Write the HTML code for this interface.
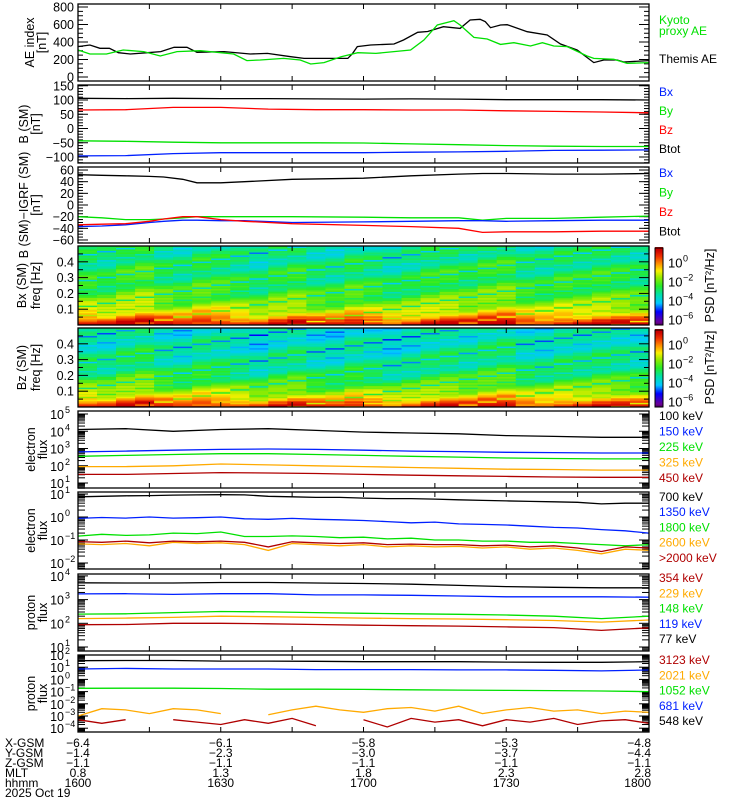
<!DOCTYPE html>
<html><head><meta charset="utf-8"><style>
html,body{margin:0;padding:0;background:#fff;}
svg{display:block;font-family:"Liberation Sans",sans-serif;}
</style></head><body>
<svg id="c" width="750" height="800" viewBox="0 0 750 800"></svg>
<script>
// ---------- data ----------
const themisT=[0,2.5,4.6,6.6,8.5,11,14.6,17.4,20.2,22.9,25,30.7,36.2,39.8,44.7,47.5,51.7,56.7,57.7,58.7,61.5,66.4,68.4,71.4,73.5,76.8,80.3,82.4,84.5,85.6,86.7,88.8,90.2,94.4,98.6,101.4,104.9,108.4,110.5,113.3,114.7,120];
const themisV=[347,366,328,328,278,263,278,290,339,339,282,290,263,270,232,213,213,213,270,347,366,377,423,511,520,575,556,651,659,632,564,594,598,518,480,377,309,164,194,194,171,187];
const kyotoT=[0,2.5,6,9.5,13.8,17.3,20.8,25.7,32.7,35.5,38.3,43.2,46.7,48.9,51.7,55.3,58.8,62.6,69.9,72.7,75.5,79,80.3,83.2,86,88.8,91.6,95.1,97.6,100,102.8,107,108.4,112.6,115.4,120];
const kyotoV=[309,263,263,309,290,240,290,301,263,187,194,213,194,149,164,232,278,270,309,423,594,644,594,453,434,373,392,354,392,354,347,240,213,202,156,164];
const T13=[0,10,20,30,40,50,60,70,80,90,100,110,120];
const T25=[0,5,10,15,20,25,30,35,40,45,50,55,60,65,70,75,80,85,90,95,100,105,110,115,120];
const bTot=[106,105,106,105,105,104,103,104,103,101,101,101,100];
const bZ=[65,66,74,74,68,66,66,65,65,62,60,58,55];
const bY=[-43,-45,-48,-50,-50,-50,-51,-54,-57,-60,-62,-63,-63];
const bX=[-96,-95,-88,-85,-85,-85,-85,-83,-82,-80,-77,-76,-75];
const dT=[0,5,10,15,18,22,25,30,35,45,60,70,80,85,90,100,110,120];
const dTot=[52,51,50,49,48,44,38,38,40,44,46,50,53,54,54,53,53,54];
const dY=[-20,-22,-25,-25,-24,-22,-20,-20,-20,-20,-21,-22,-22,-26,-23,-23,-21,-19];
const dX=[-37,-36,-34,-30,-28,-26,-26,-27,-27,-30,-29,-28,-27,-27,-28,-27,-26,-26];
const dZ=[-34,-33,-32,-28,-24,-20,-20,-25,-28,-32,-35,-37,-40,-47,-46,-46,-45,-45];
const e1Black=[4.1,4.15,4.0,4.1,4.15,4.05,3.95,3.9,3.85,3.75,3.7,3.65,3.65];
const e1Blue=[2.8,2.85,2.9,2.95,2.97,2.95,2.9,2.85,2.82,2.78,2.76,2.74,2.74];
const e1Green=[2.55,2.6,2.65,2.7,2.7,2.65,2.6,2.55,2.5,2.45,2.42,2.4,2.4];
const e1Orange=[1.95,1.95,2.0,2.1,2.05,2.0,1.95,1.9,1.85,1.8,1.78,1.75,1.75];
const e1Red=[1.5,1.5,1.55,1.6,1.58,1.55,1.5,1.45,1.42,1.38,1.35,1.33,1.33];
const e2Black=[0.88,0.9,0.92,0.93,0.95,0.96,0.97,0.96,0.9,0.88,0.85,0.85,0.82,0.8,0.8,0.78,0.75,0.72,0.7,0.68,0.66,0.64,0.57,0.6,0.6];
const e2Blue=[-0.06,-0.02,-0.05,0.0,-0.05,-0.03,0.0,-0.08,-0.1,-0.06,-0.1,-0.12,-0.15,-0.2,-0.25,-0.22,-0.3,-0.32,-0.35,-0.4,-0.45,-0.48,-0.55,-0.6,-0.7];
const e2Green=[-0.83,-0.75,-0.8,-0.78,-0.7,-0.72,-0.65,-0.85,-0.85,-0.82,-0.85,-0.9,-0.88,-0.95,-0.92,-1.0,-1.0,-1.05,-1.05,-1.1,-1.1,-1.15,-1.2,-1.25,-1.2];
const e2Orange=[-1.17,-1.2,-1.15,-1.25,-1.1,-1.15,-1.12,-1.2,-1.45,-1.15,-1.2,-1.25,-1.2,-1.3,-1.25,-1.3,-1.28,-1.35,-1.3,-1.4,-1.35,-1.45,-1.6,-1.4,-1.45];
const e2Red=[-1.07,-1.1,-1.05,-1.12,-1.05,-1.08,-1.05,-1.1,-1.3,-1.08,-1.12,-1.15,-1.12,-1.2,-1.18,-1.2,-1.2,-1.25,-1.22,-1.3,-1.25,-1.35,-1.5,-1.3,-1.35];
const p1Black=[3.71,3.7,3.7,3.72,3.72,3.7,3.68,3.65,3.6,3.55,3.52,3.5,3.5];
const p1Blue=[3.24,3.25,3.22,3.25,3.25,3.2,3.2,3.18,3.15,3.12,3.12,3.12,3.1];
const p1Green=[2.39,2.4,2.45,2.5,2.48,2.45,2.42,2.4,2.38,2.35,2.3,2.2,2.3];
const p1Orange=[2.2,2.22,2.25,2.3,2.28,2.25,2.22,2.2,2.18,2.15,2.12,2.05,2.14];
const p1Red=[1.94,1.95,2.0,2.0,1.98,1.95,1.92,1.9,1.88,1.85,1.82,1.7,1.81];
const p2Black=[1.53,1.55,1.55,1.5,1.5,1.48,1.45,1.45,1.45,1.42,1.4,1.4,1.45];
const p2Blue=[0.85,0.9,0.85,0.85,0.85,0.8,0.8,0.8,0.78,0.78,0.75,0.7,0.77];
const p2Green=[-0.73,-0.72,-0.72,-0.75,-0.8,-0.8,-0.82,-0.85,-0.88,-0.9,-0.92,-0.95,-1.0];
const p2Orange=[-3.0,-2.4,-2.5,-2.8,-2.4,-2.5,-2.8,null,-2.9,-2.5,-2.2,-2.5,-2.7,-2.4,-2.3,-2.6,-2.2,-2.8,-2.5,-2.3,-2.6,-2.5,-2.8,-2.6,-2.7];
const p2Red=[-3.3,-3.6,-3.3,null,-3.3,-3.5,-3.7,-3.3,-3.6,-3.2,-3.8,null,-3.3,-3.9,-3.2,-3.5,-3.3,-3.8,-3.3,-3.5,-3.2,-3.7,-3.4,-3.3,-3.6];
// spectrogram data (log10 PSD): row profile bottom->top, column offsets, row stripes
const bxRows=[0.8,0.3,-0.3,-0.8,-1.2,-1.5,-1.8,-2.0,-2.2,-2.4,-2.5,-2.6,-2.7,-2.8,-2.9,-2.9,-3.0,-3.0,-3.1,-3.1,-3.2,-3.2,-3.3,-3.3,-3.3,-3.4];
const bxCols=[0.3,0.1,0.5,0.7,0.2,0.0,0.4,0.3,0.1,-0.2,0.2,0.4,0.0,-0.1,0.3,0.1,-0.2,0.0,0.3,0.4,0.2,0.5,0.6,0.1,0.0,0.3,0.2,0.4,0.3,0.1];
const bzRows=[0.6,0.1,-0.5,-1.0,-1.4,-1.7,-2.0,-2.3,-2.5,-2.7,-2.8,-3.0,-3.1,-3.2,-3.3,-3.3,-3.4,-3.4,-3.5,-3.5,-3.6,-3.6,-3.6,-3.7,-3.7,-3.7];
const bzCols=[0.2,0.0,0.4,0.6,0.1,-0.1,0.3,0.2,0.0,-0.3,0.1,0.3,-0.1,-0.2,0.2,0.0,-0.3,-0.1,0.2,0.3,0.1,0.4,0.5,0.0,-0.1,0.2,0.1,0.3,0.2,0.0];
const stripes=[0.2,-0.3,0.1,0.5,-0.7,0.0,0.4,-0.2,-0.9,0.3,0.1,-0.5,0.3,0.6,-0.4,0.0,-1.2];
// ---------- helpers ----------
const NS="http://www.w3.org/2000/svg",S=document.getElementById('c');
function el(tag,at,parent){const e=document.createElementNS(NS,tag);for(const k in at)e.setAttribute(k,at[k]);(parent||S).appendChild(e);return e;}
const X0=78,X1=649;
const xs=t=>X0+t*(X1-X0)/120;
function panel(name,y0,y1){
 const g=el('g',{});
 
 
 return {g,y0,y1};
}
function frame(p){
 const r=el('rect',{x:X0,y:p.y0,width:X1-X0,height:p.y1-p.y0,fill:'none',stroke:'#000','stroke-width':1.3},p.g);
 
 
 for(let t=15;t<120;t+=15){const x=xs(t);
  el('line',{x1:x,x2:x,y1:p.y1,y2:p.y1-5,stroke:'#000'},p.g);
  el('line',{x1:x,x2:x,y1:p.y0,y2:p.y0+5,stroke:'#000'},p.g);}
}
function ytick(p,y,len){
 el('line',{x1:X0,x2:X0+len,y1:y,y2:y,stroke:'#000'},p.g);
 el('line',{x1:X1,x2:X1-len,y1:y,y2:y,stroke:'#000'},p.g);
}
function linAxis(p,ys,labels,minorStep,lo,hi){
 for(let v=lo;v<=hi+1e-9;v+=minorStep){const y=ys(v);if(y>=p.y0&&y<=p.y1)ytick(p,y,5);}
 labels.forEach(v=>{const y=ys(v);ytick(p,y,10);
  const t=el('text',{x:74,y:y+4.5,'font-size':12.5,'text-anchor':'end'},p.g);t.textContent=String(v).replace('-','\u2212');
  
  });
}
function logAxis(p,ys,decs,lo,hi){
 for(let d=lo;d<hi;d++)for(let k=1;k<10;k++){const y=ys(d+Math.log10(k));if(y>=p.y0-0.5&&y<=p.y1+0.5)ytick(p,y,k==1?10:7);}
 decs.forEach(d=>{const y=ys(d);
  const t=el('text',{x:64,y:y+5,'font-size':12.5,'text-anchor':'end'},p.g);t.textContent='10';
  
  
  const s=el('text',{x:65,y:y-1,'font-size':9},p.g);s.textContent=String(d).replace('-','\u2212');
  
  });
}
function series(p,T,V,ys,color,name){
 const path=[];let pen=false;
 T.forEach((t,i)=>{const v=V[i];if(v===null){pen=false;return;}
  path.push((pen?'L':'M')+xs(t).toFixed(1)+' '+ys(v).toFixed(1));pen=true;});
 const e=el('path',{d:path.join(' '),fill:'none',stroke:color,'stroke-width':1.3},p.g);
 
 
}
function ytitle(p,lines,xs0){
 const cy=(p.y0+p.y1)/2;
 lines.forEach((l,i)=>{const x=xs0[i];
  const t=el('text',{x:x,y:cy,'font-size':12.5,'text-anchor':'middle',transform:`rotate(-90 ${x} ${cy})`},p.g);t.textContent=l;
  
  });
}
function legend(p,items,ys0,dy){
 items.forEach((it,i)=>{const t=el('text',{x:659,y:ys0+i*dy,'font-size':12,fill:it[1]},p.g);t.textContent=it[0];
  
  });
}
const GREEN='#00e000',BLUE='#0020ff',RED='#ff0000',ORANGE='#ffaa00',DRED='#b00000';
// ---------- AE panel ----------
{const p=panel('ae-index-panel',4,81);const ys=v=>77-v*0.0875;
 linAxis(p,ys,[0,200,400,600,800],50,0,800);
 series(p,themisT,themisV,ys,'#000','themis-ae-line');series(p,kyotoT,kyotoV,ys,GREEN,'kyoto-ae-line');
 frame(p);ytitle(p,['AE index','[nT]'],[34,46]);
 legend(p,[['Kyoto',GREEN],['proxy AE',GREEN]],24,11);legend(p,[['Themis AE','#000']],63,0);}
// ---------- B panel ----------
{const p=panel('b-sm-panel',85,163);const ys=v=>128.5-v*0.285;
 linAxis(p,ys,[150,100,50,0,-50,-100],10,-120,150);
 series(p,T13,bTot,ys,'#000','btot-line');series(p,T13,bZ,ys,RED,'bz-line');series(p,T13,bY,ys,GREEN,'by-line');series(p,T13,bX,ys,BLUE,'bx-line');
 frame(p);ytitle(p,['B (SM)','[nT]'],[28,40]);
 legend(p,[['Bx',BLUE],['By',GREEN],['Bz',RED],['Btot','#000']],96,19);}
// ---------- B - IGRF panel ----------
{const p=panel('b-minus-igrf-panel',167,243);const ys=v=>205-v*0.583;
 linAxis(p,ys,[60,40,20,0,-20,-40,-60],5,-65,65);
 series(p,dT,dTot,ys,'#000','dbtot-line');series(p,dT,dY,ys,GREEN,'dby-line');series(p,dT,dX,ys,BLUE,'dbx-line');series(p,dT,dZ,ys,RED,'dbz-line');
 frame(p);ytitle(p,['B (SM)\u2212IGRF (SM)','[nT]'],[28,40]);
 legend(p,[['Bx',BLUE],['By',GREEN],['Bz',RED],['Btot','#000']],177,19.5);}
// ---------- spectrograms ----------
function cmap(v){const st=[[-7,[0,0,0]],[-6.3,[110,0,150]],[-5.2,[0,0,255]],[-4.3,[0,200,255]],[-3.4,[0,225,170]],[-2.5,[40,235,40]],[-1.6,[150,235,0]],[-0.9,[250,240,0]],[-0.2,[255,150,0]],[0.6,[240,50,0]],[1.3,[200,0,0]]];
 if(v<=st[0][0])return 'rgb(0,0,0)';
 for(let i=1;i<st.length;i++)if(v<=st[i][0]){const a=st[i-1],b=st[i],f=(v-a[0])/(b[0]-a[0]);
  return 'rgb('+a[1].map((c,j)=>Math.round(c+(b[1][j]-c)*f)).join(',')+')';}
 return 'rgb(200,0,0)';}
function spectro(name,y0,y1,rows,cols,title){
 const p=panel(name,y0,y1);const nR=rows.length*2,nC=cols.length,h=(y1-y0)/nR,w=(X1-X0)/nC;
 for(let c=0;c<nC;c++)for(let r=0;r<nR;r++){
  const v=rows[r>>1]+cols[c]+stripes[(r*7+c*3)%stripes.length];
  const e=el('rect',{x:(X0+c*w).toFixed(2),y:(y1-(r+1)*h).toFixed(2),width:(w+0.6).toFixed(2),height:(h+0.4).toFixed(2),fill:cmap(v)},p.g);
  
  }
 const ys=f=>y1-f*(y1-y0)/0.5;
 for(let f=0.05;f<0.5;f+=0.05)ytick(p,ys(f),(Math.round(f*100)%10==0)?10:5);
 [0.1,0.2,0.3,0.4].forEach(f=>{const t=el('text',{x:74,y:ys(f)+4.5,'font-size':12.5,'text-anchor':'end'},p.g);t.textContent=f.toFixed(1);
  
  });
 frame(p);ytitle(p,[title,'freq [Hz]'],[26,40]);
 // colorbar
 const cb=el('g',{},p.g);
 
 
 const top=1.5,bot=-6.6,cy=v=>y0+2+(top-v)*(y1-y0-2)/(top-bot);
 for(let v=bot;v<top;v+=0.1)el('rect',{x:655,y:cy(v+0.1),width:8,height:(y1-y0)/(top-bot)*0.1+0.5,fill:cmap(v)},cb);
 el('rect',{x:655,y:y0+2,width:8,height:y1-y0-2,fill:'none',stroke:'#000'},cb);
 [0,-2,-4,-6].forEach(d=>{const t=el('text',{x:668,y:cy(d)+5,'font-size':13},cb);t.textContent='10';
  const s=el('text',{x:683,y:cy(d)-1,'font-size':9},cb);s.textContent=String(d).replace('-','\u2212');});
 const cyM=(y0+y1)/2;
 const t=el('text',{x:714,y:cyM,'font-size':12.5,'text-anchor':'middle',transform:`rotate(-90 714 ${cyM})`},cb);t.textContent='PSD [nT\u00b2/Hz]';
 
 
}
spectro('bx-spectrogram-panel',246,325,bxRows,bxCols,'Bx (SM)');
spectro('bz-spectrogram-panel',328,407,bzRows,bzCols,'Bz (SM)');
// ---------- electron flux 1 ----------
{const p=panel('electron-flux-panel-1',411,488);const ys=v=>483-(v-1)*17.25;
 logAxis(p,ys,[1,2,3,4,5],0,6);
 series(p,T13,e1Black,ys,'#000','e-100kev');series(p,T13,e1Blue,ys,BLUE,'e-150kev');series(p,T13,e1Green,ys,GREEN,'e-225kev');series(p,T13,e1Orange,ys,ORANGE,'e-325kev');series(p,T13,e1Red,ys,DRED,'e-450kev');
 frame(p);ytitle(p,['electron','flux'],[35,47]);
 legend(p,[['100 keV','#000'],['150 keV',BLUE],['225 keV',GREEN],['325 keV',ORANGE],['450 keV',DRED]],420,15.5);}
// ---------- electron flux 2 ----------
{const p=panel('electron-flux-panel-2',492,569);const ys=v=>494-(v-1)*23;
 logAxis(p,ys,[1,0,-1,-2],-3,2);
 series(p,T25,e2Black,ys,'#000','e-700kev');series(p,T25,e2Blue,ys,BLUE,'e-1350kev');series(p,T25,e2Green,ys,GREEN,'e-1800kev');series(p,T25,e2Orange,ys,ORANGE,'e-2600kev');series(p,T25,e2Red,ys,DRED,'e-2000kev');
 frame(p);ytitle(p,['electron','flux'],[35,47]);
 legend(p,[['700 keV','#000'],['1350 keV',BLUE],['1800 keV',GREEN],['2600 keV',ORANGE],['>2000 keV',DRED]],501,15.2);}
// ---------- proton flux 1 ----------
{const p=panel('proton-flux-panel-1',574,651);const ys=v=>647-(v-1)*23.7;
 logAxis(p,ys,[4,3,2,1],0,5);
 series(p,T13,p1Black,ys,'#000','p-77kev');series(p,T13,p1Blue,ys,BLUE,'p-119kev');series(p,T13,p1Green,ys,GREEN,'p-148kev');series(p,T13,p1Orange,ys,ORANGE,'p-229kev');series(p,T13,p1Red,ys,DRED,'p-354kev');
 frame(p);ytitle(p,['proton','flux'],[35,47]);
 legend(p,[['354 keV',DRED],['229 keV',ORANGE],['148 keV',GREEN],['119 keV',BLUE],['77 keV','#000']],582,15.3);}
// ---------- proton flux 2 ----------
{const p=panel('proton-flux-panel-2',655,732);const ys=v=>655-(v-2)*12.2;
 logAxis(p,ys,[2,1,0,-1,-2,-3,-4],-5,3);
 series(p,T13,p2Black,ys,'#000','p-548kev');series(p,T13,p2Blue,ys,BLUE,'p-681kev');series(p,T13,p2Green,ys,GREEN,'p-1052kev');series(p,T25,p2Orange,ys,ORANGE,'p-2021kev');series(p,T25,p2Red,ys,DRED,'p-3123kev');
 frame(p);ytitle(p,['proton','flux'],[35,47]);
 legend(p,[['3123 keV',DRED],['2021 keV',ORANGE],['1052 keV',GREEN],['681 keV',BLUE],['548 keV','#000']],664,15.3);}
// ---------- bottom orbit labels ----------
const rowNames=['X-GSM','Y-GSM','Z-GSM','MLT','hhmm'];
const rowVals=[['-6.4','-6.1','-5.8','-5.3','-4.8'],['-1.4','-2.3','-3.0','-3.7','-4.4'],['-1.1','-1.1','-1.1','-1.1','-1.1'],['0.8','1.3','1.8','2.3','2.8'],['1600','1630','1700','1730','1800']];
const rowY=[747,757,767,777,787];
const g=el('g',{});


rowNames.forEach((n,i)=>{const t=el('text',{x:5,y:rowY[i],'font-size':12},g);t.textContent=n;
 rowVals[i].forEach((v,j)=>{const last=j==4;const tt=el('text',{x:last?651:xs(j*30),y:rowY[i],'font-size':12,'text-anchor':last?'end':'middle'},g);tt.textContent=v.replace('-','\u2212');});});
const d=el('text',{x:5,y:797,'font-size':12},g);d.textContent='2025 Oct 19';


</script>
</body></html>
